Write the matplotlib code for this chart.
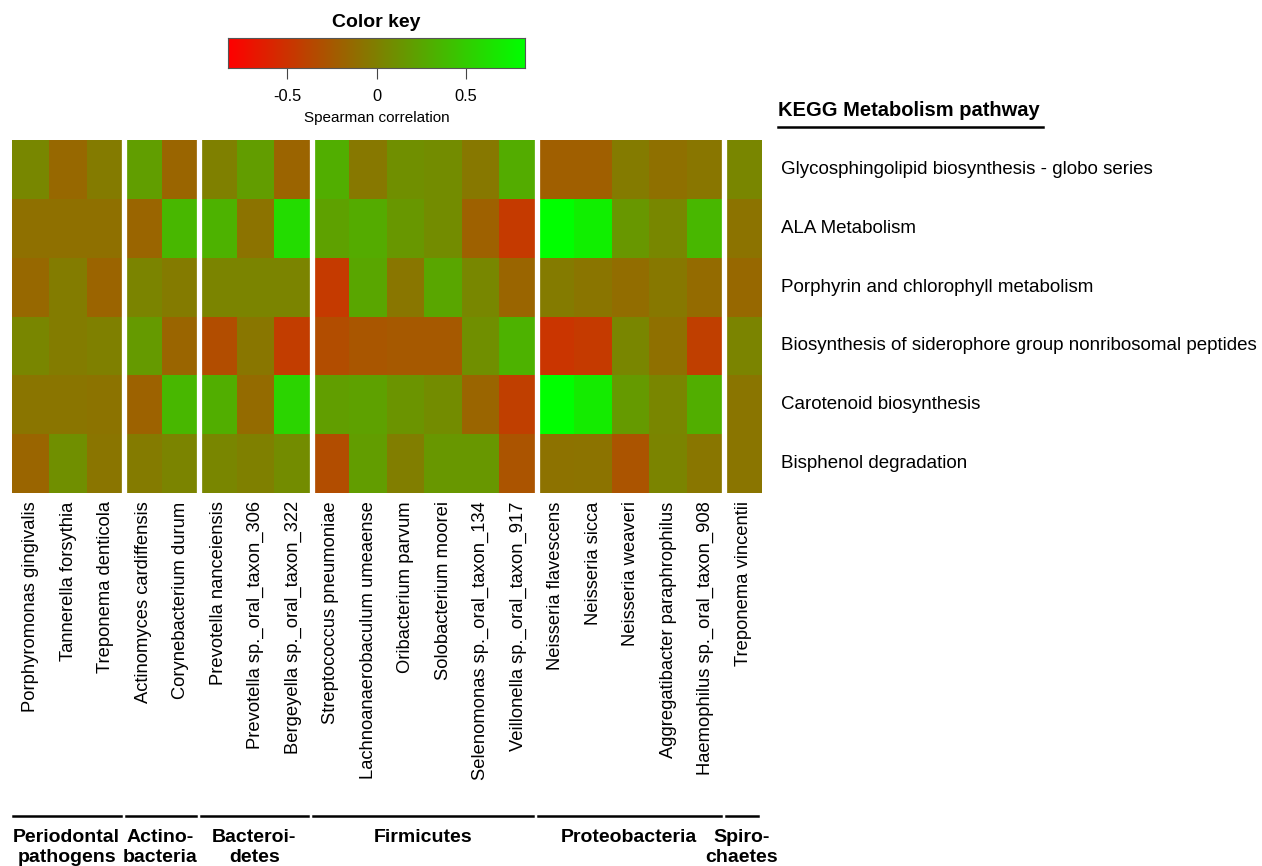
import numpy as np
import matplotlib
matplotlib.use("Agg")
import matplotlib.pyplot as plt
from matplotlib.colors import LinearSegmentedColormap

plt.rcParams["font.family"] = ["Liberation Sans", "DejaVu Sans"]

taxa = [
    "Porphyromonas gingivalis", "Tannerella forsythia", "Treponema denticola",
    "Actinomyces cardiffensis", "Corynebacterium durum",
    "Prevotella nanceiensis", "Prevotella sp._oral_taxon_306", "Bergeyella sp._oral_taxon_322",
    "Streptococcus pneumoniae", "Lachnoanaerobaculum umeaense", "Oribacterium parvum",
    "Solobacterium moorei", "Selenomonas sp._oral_taxon_134", "Veillonella sp._oral_taxon_917",
    "Neisseria flavescens", "Neisseria sicca", "Neisseria weaveri",
    "Aggregatibacter paraphrophilus", "Haemophilus sp._oral_taxon_908",
    "Treponema vincentii",
]
pathways = [
    "Glycosphingolipid biosynthesis - globo series",
    "ALA Metabolism",
    "Porphyrin and chlorophyll metabolism",
    "Biosynthesis of siderophore group nonribosomal peptides",
    "Carotenoid biosynthesis",
    "Bisphenol degradation",
]
groups = ["Periodontal\npathogens", "Actino-\nbacteria", "Bacteroi-\ndetes",
          "Firmicutes", "Proteobacteria", "Spiro-\nchaetes"]
group_sizes = [3, 2, 3, 6, 5, 1]

# Spearman correlations, rows = pathways, cols = taxa
glyco = [0.05, -0.15, -0.03, 0.20, -0.17, 0.00, 0.19, -0.18, 0.30, -0.05,
         0.10, 0.08, -0.05, 0.29, -0.21, -0.21, -0.03, -0.10, -0.06, 0.04]
ala = [-0.10, -0.10, -0.10, -0.17, 0.36, 0.33, -0.08, 0.60, 0.22, 0.28,
       0.15, 0.08, -0.20, -0.45, 0.83, 0.72, 0.15, 0.05, 0.36, -0.08]
porph = [-0.15, -0.02, -0.18, 0.03, -0.03, 0.03, 0.03, 0.03, -0.45, 0.25,
         -0.06, 0.25, 0.05, -0.17, -0.03, -0.07, -0.12, -0.05, -0.13, -0.15]
sidero = [0.04, -0.02, 0.00, 0.17, -0.17, -0.33, -0.06, -0.43, -0.33, -0.27,
          -0.25, -0.25, 0.10, 0.33, -0.48, -0.45, 0.04, -0.10, -0.42, 0.03]
carot = [-0.07, -0.07, -0.08, -0.19, 0.36, 0.30, -0.13, 0.55, 0.20, 0.22,
         0.13, 0.08, -0.17, -0.42, 0.83, 0.70, 0.17, 0.04, 0.30, -0.07]
bisph = [-0.17, 0.10, -0.07, -0.03, 0.03, 0.04, 0.00, 0.08, -0.33, 0.19,
         -0.01, 0.15, 0.15, -0.28, -0.09, -0.08, -0.28, 0.03, -0.06, -0.07]

data = np.array([glyco, ala, porph, sidero, carot, bisph])
vlim = 0.83
cmap = LinearSegmentedColormap.from_list("rg", ["#ff0000", "#00ff00"])

W, H = 1262, 866
fig = plt.figure(figsize=(W / 100, H / 100), dpi=100)


def box(x0, y0, x1, y1):
    # pixel box (top-left origin) -> figure fraction
    return [x0 / W, 1 - y1 / H, (x1 - x0) / W, (y1 - y0) / H]


# heatmap
ax = fig.add_axes(box(12, 140, 762, 493))
ax.pcolormesh(data, cmap=cmap, vmin=-vlim, vmax=vlim)
ax.set_xlim(0, data.shape[1])
ax.set_ylim(data.shape[0], 0)
for s in ax.spines.values():
    s.set_visible(False)
ax.set_yticks([])
ax.set_xticks(np.arange(len(taxa)) + 0.5)
ax.set_xticklabels(taxa, rotation=90, fontsize=13.2, va="top", ha="center")
ax.tick_params(axis="x", length=0, pad=6)
bounds = np.cumsum(group_sizes)[:-1]
for b in bounds:
    ax.axvline(b, color="white", lw=3.8)

# row labels on the right
for i, p in enumerate(pathways):
    ax.text(1.025, 1 - (i + 0.5) / len(pathways), p, transform=ax.transAxes,
            ha="left", va="center", fontsize=13.5)

# colour key
cax = fig.add_axes(box(228, 38, 525, 68))
grad = np.linspace(-vlim, vlim, 256).reshape(1, -1)
cax.imshow(grad, cmap=cmap, aspect="auto", extent=[-vlim, vlim, 0, 1])
cax.set_yticks([])
cax.set_xticks([-0.5, 0, 0.5])
cax.set_xticklabels(["-0.5", "0", "0.5"], fontsize=11.8)
cax.tick_params(axis="x", length=8, pad=7, color="#444444")
cax.set_xlabel("Spearman correlation", fontsize=11, labelpad=5)
cax.set_title("Color key", fontsize=14, fontweight="bold", pad=8)
for s in cax.spines.values():
    s.set_color("#555555")

# overlay for annotations in pixel coordinates
ov = fig.add_axes([0, 0, 1, 1])
ov.set_xlim(0, W)
ov.set_ylim(H, 0)
ov.axis("off")
ov.patch.set_alpha(0)

ov.text(778, 110, "KEGG Metabolism pathway", fontsize=14.5, fontweight="bold",
        ha="left", va="center")
ov.plot([778, 1043], [127, 127], color="black", lw=1.8)

x0, colw = 12, 750 / len(taxa)
start = 0
for g, n in zip(groups, group_sizes):
    xa = x0 + start * colw + 1
    xb = x0 + (start + n) * colw - 4
    ov.plot([xa, xb], [816, 816], color="black", lw=1.8)
    for k, line in enumerate(g.split("\n")):
        ov.text((xa + xb) / 2, 842 + 20 * k, line, fontsize=14, fontweight="bold",
                ha="center", va="baseline")
    start += n

fig.savefig("out.png", dpi=100)
